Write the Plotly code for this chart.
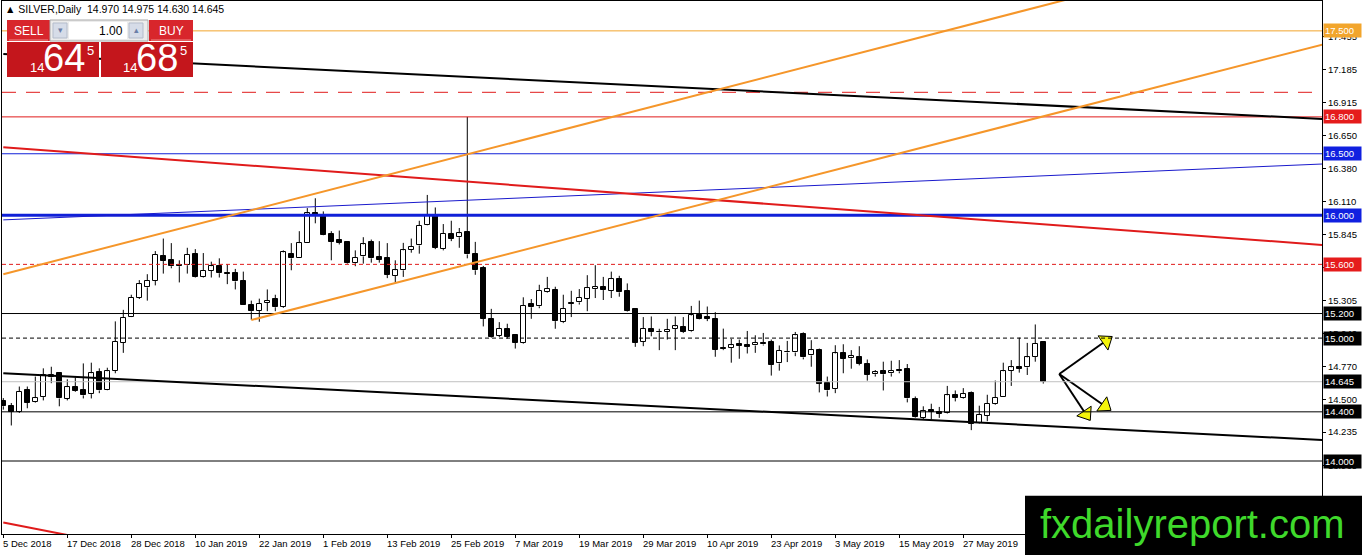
import plotly.graph_objects as go

# SILVER daily bars (O, H, L, C), first bar = 5 Dec 2018, last = 10 Jun 2019
opens = [14.485, 14.450, 14.399, 14.574, 14.477, 14.520, 14.681, 14.714, 14.507, 14.601,
         14.579, 14.544, 14.722, 14.576, 14.735, 14.964, 15.173, 15.327, 15.413, 15.466,
         15.665, 15.633, 15.593, 15.593, 15.687, 15.498, 15.547, 15.585, 15.528, 15.528,
         15.466, 15.273, 15.224, 15.289, 15.316, 15.257, 15.687, 15.654, 15.775, 16.015,
         15.993, 15.848, 15.797, 15.786, 15.609, 15.665, 15.781, 15.657, 15.649, 15.507,
         15.552, 15.719, 15.754, 15.923, 15.998, 15.724, 15.848, 15.821, 15.861, 15.687,
         15.574, 15.157, 15.020, 15.076, 15.023, 14.961, 15.278, 15.259, 15.378, 15.391,
         15.130, 15.286, 15.291, 15.318, 15.399, 15.418, 15.385, 15.482, 15.385, 15.238,
         14.969, 15.076, 15.052, 15.049, 15.076, 15.090, 15.055, 15.184, 15.171, 15.157,
         14.923, 14.923, 14.950, 14.942, 14.940, 14.961, 14.966, 14.794, 14.883, 14.883,
         15.036, 14.859, 14.902, 14.633, 14.585, 14.875, 14.835, 14.848, 14.786, 14.706,
         14.733, 14.714, 14.741, 14.746, 14.507, 14.351, 14.418, 14.396, 14.391, 14.539,
         14.512, 14.552, 14.310, 14.370, 14.464, 14.520, 14.735, 14.762, 14.762, 14.848,
         14.970]
highs = [14.512, 14.472, 14.606, 14.606, 14.687, 14.754, 14.767, 14.724, 14.665, 14.681,
         14.794, 14.800, 14.754, 14.759, 15.136, 15.230, 15.353, 15.472, 15.520, 15.708,
         15.810, 15.773, 15.633, 15.735, 15.724, 15.692, 15.622, 15.649, 15.601, 15.563,
         15.541, 15.305, 15.321, 15.396, 15.353, 15.714, 15.773, 15.870, 16.058, 16.138,
         16.031, 15.870, 15.875, 15.790, 15.714, 15.821, 15.802, 15.789, 15.773, 15.633,
         15.775, 15.810, 15.955, 16.165, 16.063, 15.928, 15.955, 15.896, 16.800, 15.783,
         15.587, 15.238, 15.130, 15.117, 15.023, 15.332, 15.318, 15.434, 15.498, 15.418,
         15.353, 15.385, 15.399, 15.512, 15.593, 15.498, 15.541, 15.507, 15.445, 15.240,
         15.171, 15.176, 15.076, 15.157, 15.176, 15.171, 15.262, 15.305, 15.257, 15.211,
         15.077, 14.993, 14.988, 15.058, 15.023, 15.042, 14.988, 14.940, 14.977, 15.050,
         15.047, 14.983, 14.915, 14.687, 14.942, 14.950, 14.902, 14.934, 14.826, 14.740,
         14.808, 14.816, 14.821, 14.789, 14.525, 14.445, 14.466, 14.440, 14.611, 14.574,
         14.593, 14.566, 14.450, 14.539, 14.655, 14.800, 14.821, 15.004, 14.961, 15.111,
         14.975]
lows = [14.418, 14.289, 14.391, 14.429, 14.472, 14.493, 14.633, 14.445, 14.493, 14.563,
        14.509, 14.509, 14.552, 14.574, 14.714, 14.880, 15.171, 15.318, 15.305, 15.429,
        15.525, 15.568, 15.453, 15.525, 15.493, 15.493, 15.493, 15.493, 15.439, 15.396,
        15.267, 15.149, 15.133, 15.219, 15.219, 15.246, 15.552, 15.654, 15.775, 15.934,
        15.837, 15.633, 15.762, 15.606, 15.585, 15.606, 15.614, 15.614, 15.488, 15.453,
        15.498, 15.695, 15.687, 15.918, 15.724, 15.714, 15.789, 15.735, 15.649, 15.515,
        15.095, 15.004, 15.009, 14.996, 14.915, 14.955, 15.157, 15.243, 15.370, 15.076,
        15.122, 15.171, 15.273, 15.219, 15.326, 15.310, 15.326, 15.337, 15.216, 14.929,
        14.934, 15.015, 14.902, 14.988, 14.902, 15.041, 15.049, 15.149, 15.138, 14.848,
        14.902, 14.800, 14.832, 14.875, 14.880, 14.940, 14.695, 14.735, 14.805, 14.853,
        14.827, 14.767, 14.558, 14.525, 14.552, 14.714, 14.751, 14.778, 14.654, 14.687,
        14.574, 14.687, 14.714, 14.477, 14.353, 14.337, 14.337, 14.351, 14.386, 14.485,
        14.507, 14.251, 14.305, 14.324, 14.458, 14.520, 14.611, 14.719, 14.700, 14.808,
        14.630]
closes = [14.445, 14.399, 14.563, 14.472, 14.512, 14.697, 14.697, 14.509, 14.601, 14.571,
          14.534, 14.714, 14.574, 14.730, 14.972, 15.165, 15.329, 15.439, 15.466, 15.676,
          15.627, 15.585, 15.585, 15.676, 15.498, 15.547, 15.585, 15.528, 15.523, 15.461,
          15.267, 15.219, 15.278, 15.305, 15.251, 15.697, 15.649, 15.773, 16.015, 15.993,
          15.843, 15.783, 15.775, 15.614, 15.654, 15.762, 15.649, 15.638, 15.515, 15.552,
          15.714, 15.743, 15.915, 16.004, 15.735, 15.851, 15.810, 15.853, 15.681, 15.552,
          15.157, 15.009, 15.076, 15.009, 14.961, 15.262, 15.251, 15.385, 15.402, 15.138,
          15.238, 15.281, 15.326, 15.407, 15.415, 15.391, 15.480, 15.372, 15.224, 14.961,
          15.076, 15.049, 15.047, 15.068, 15.095, 15.049, 15.184, 15.152, 15.157, 14.907,
          14.910, 14.942, 14.937, 14.929, 14.961, 14.948, 14.781, 14.896, 14.888, 15.023,
          14.843, 14.902, 14.628, 14.574, 14.875, 14.832, 14.853, 14.789, 14.700, 14.722,
          14.706, 14.733, 14.730, 14.509, 14.359, 14.405, 14.402, 14.386, 14.534, 14.512,
          14.544, 14.305, 14.378, 14.464, 14.515, 14.730, 14.762, 14.751, 14.843, 14.956,
          14.645]

date_labels = ["5 Dec 2018", "17 Dec 2018", "28 Dec 2018", "10 Jan 2019", "22 Jan 2019",
               "1 Feb 2019", "13 Feb 2019", "25 Feb 2019", "7 Mar 2019", "19 Mar 2019",
               "29 Mar 2019", "10 Apr 2019", "23 Apr 2019", "3 May 2019", "15 May 2019",
               "27 May 2019"]
bars_per_label = 8

price_ticks = [17.455, 17.185, 16.915, 16.650, 16.380, 16.110, 15.845, 15.575, 15.305,
               15.040, 14.770, 14.500, 14.235, 13.965, 13.695, 13.430]

# horizontal levels
level_prices = [17.5, 17.0, 16.8, 16.5, 16.0, 15.6, 15.2, 15.0, 14.645, 14.4, 14.0]
# price tags on the axis
tag_prices = [17.5, 16.8, 16.5, 16.0, 15.6, 15.2, 15.0, 14.645, 14.4, 14.0]

# trend lines: (bar, price) -> (bar, price)
trend_start = [(0, 17.311), (0, 15.962), (0, 16.553), (0, 13.499), (0, 15.520),
               (31, 15.147), (0, 14.715)]
trend_end = [(165, 16.783), (165, 16.417), (165, 15.757), (20, 13.246), (165, 18.294),
             (165, 17.390), (165, 14.171)]

# hand-drawn arrows on the last bars
arrow_origin = (132.0, 14.708)
arrow_tips = [(138.55, 15.011), (138.4, 14.415), (135.8, 14.334)]
arrow_heads = [(137.85, 14.978), (137.7, 14.447), (135.35, 14.381)]
arrow_angles = [55, 125, 146]

# ---------------- styles ----------------
FONT = "Liberation Sans, Arial, DejaVu Sans"
ORANGE = "#f5962a"
RED = "#e01b1b"
BLUE = "#1020d8"

level_styles = [
    dict(color="#f2a52c", width=1, dash="solid"),
    dict(color=RED, width=1, dash="14px,10px"),
    dict(color=RED, width=1, dash="solid"),
    dict(color=BLUE, width=1, dash="solid"),
    dict(color=BLUE, width=3, dash="solid"),
    dict(color=RED, width=1, dash="4px,3px"),
    dict(color="black", width=1, dash="solid"),
    dict(color="black", width=1, dash="4px,3px"),
    dict(color="#c0c0c0", width=1, dash="solid"),
    dict(color="black", width=1, dash="solid"),
    dict(color="black", width=1, dash="solid"),
]
tag_colors = ["#f2a52c", "#e51c1c", "#1020e0", "#1020e0", "#e51c1c",
              "black", "black", "black", "black", "black"]
trend_styles = [
    dict(color="black", width=2),
    dict(color="#1a1acc", width=1),
    dict(color=RED, width=2),
    dict(color=RED, width=2),
    dict(color=ORANGE, width=2),
    dict(color=ORANGE, width=2),
    dict(color="black", width=2),
]

W, H = 1362, 555
ML, MR, MT, MB = 2, 40, 1, 21


def px(x):
    return (x - ML) / (W - ML - MR)


def py(y):
    return (H - MB - y) / (H - MT - MB)


idx = list(range(len(opens)))
up = [i for i in idx if closes[i] >= opens[i]]
dn = [i for i in idx if closes[i] < opens[i]]

fig = go.Figure()

# wicks (split so they don't cross white bodies)
wx, wy = [], []
for i in idx:
    top = max(opens[i], closes[i])
    bot = min(opens[i], closes[i])
    wx += [i, i, None, i, i, None]
    wy += [highs[i], top, None, bot, lows[i], None]
fig.add_trace(go.Scatter(x=wx, y=wy, mode="lines", line=dict(color="black", width=1),
                         hoverinfo="skip", showlegend=False))

for sel, fill in [(up, "white"), (dn, "black")]:
    fig.add_trace(go.Bar(
        x=sel,
        base=[min(opens[i], closes[i]) for i in sel],
        y=[max(abs(closes[i] - opens[i]), 0.002) for i in sel],
        width=0.58,
        marker=dict(color=fill, line=dict(color="black", width=1)),
        showlegend=False,
    ))

# arrows
for (tx, tp), (hx, hp), ang in zip(arrow_tips, arrow_heads, arrow_angles):
    fig.add_trace(go.Scatter(x=[arrow_origin[0], tx], y=[arrow_origin[1], tp], mode="lines",
                             line=dict(color="black", width=2), showlegend=False,
                             hoverinfo="skip"))
    fig.add_trace(go.Scatter(x=[hx], y=[hp], mode="markers",
                             marker=dict(symbol="triangle-up", size=15, angle=ang,
                                         color="#f4f40a", line=dict(color="black", width=1)),
                             showlegend=False, hoverinfo="skip"))

shapes = []
for p, st in zip(level_prices, level_styles):
    shapes.append(dict(type="line", xref="paper", x0=0, x1=1, yref="y", y0=p, y1=p,
                       line=st))
for (x0, p0), (x1, p1), st in zip(trend_start, trend_end, trend_styles):
    shapes.append(dict(type="line", xref="x", yref="y", x0=x0, y0=p0, x1=x1, y1=p1,
                       line=st))


# trade panel (top-left)
def rect(x0, y0, x1, y1, fill, border=None):
    shapes.append(dict(type="rect", xref="paper", yref="paper",
                       x0=px(x0), x1=px(x1), y0=py(y1), y1=py(y0),
                       fillcolor=fill, line=dict(width=1 if border else 0,
                                                 color=border or fill)))


rect(3, 2, 212, 17, "white")
rect(7, 20, 50, 41, "#d8262c")
rect(50, 20, 148, 41, "#ececec", "#a8a8a8")
rect(53, 23, 67, 38, "#d6dce8", "#b4bccb")
rect(69, 22, 127, 39, "#ffffff")
rect(129, 23, 143, 38, "#d6dce8", "#b4bccb")
rect(149, 20, 193, 41, "#d8262c")
rect(7, 42, 99, 77, "#c4161c")
rect(101, 42, 193, 77, "#c4161c")
shapes.append(dict(type="line", xref="paper", yref="paper", x0=px(9), x1=px(48),
                   y0=py(40), y1=py(40), line=dict(color="#ee8a8a", width=1)))
shapes.append(dict(type="line", xref="paper", yref="paper", x0=px(151), x1=px(191),
                   y0=py(40), y1=py(40), line=dict(color="#ee8a8a", width=1)))

# watermark box
rect(1025, 495.7, 1362, 556, "black")

annotations = []


def text(t, x, y, size, color="white", xanchor="center", yanchor="middle"):
    annotations.append(dict(text=t, x=px(x), y=py(y), xref="paper", yref="paper",
                            xanchor=xanchor, yanchor=yanchor, showarrow=False,
                            font=dict(family=FONT, size=size, color=color)))


text("▲ SILVER,Daily  14.970 14.975 14.630 14.645", 3, 9, 10.5, "black", xanchor="left")
text("SELL", 28.5, 31, 12)
text("BUY", 171, 31, 12)
text("1.00", 125, 30.5, 12, "black", xanchor="right")
text("▾", 60, 30, 9, "#6b7fa8")
text("▴", 136, 30, 9, "#6b7fa8")
text("14", 37, 67.5, 13)
text("64", 64, 58, 38)
text("5", 90, 51, 13)
text("14", 130, 67.5, 13)
text("68", 157, 58, 38)
text("5", 183, 51, 13)

text("fxdailyreport.com", 1192, 524, 40, "#3fd92b")

# date labels
for n, lab in enumerate(date_labels):
    annotations.append(dict(text=lab, x=n * bars_per_label, y=0, xref="x", yref="paper",
                            xanchor="left", yanchor="top", showarrow=False, xshift=-2,
                            yshift=-2, font=dict(family=FONT, size=9.5, color="black")))

# price tags
for p, c in zip(tag_prices, tag_colors):
    annotations.append(dict(text=f"{p:.3f}", x=1, y=p, xref="paper", yref="y",
                            xanchor="left", yanchor="middle", showarrow=False, xshift=1,
                            bgcolor=c, borderpad=1, width=35, align="left",
                            font=dict(family=FONT, size=9.5, color="white")))

fig.update_layout(
    width=W, height=H,
    margin=dict(l=ML, r=MR, t=MT, b=MB),
    paper_bgcolor="white", plot_bgcolor="white",
    barmode="overlay", bargap=0,
    showlegend=False,
    shapes=shapes,
    annotations=annotations,
    xaxis=dict(range=[-0.1625, 164.84], showgrid=False, zeroline=False,
               showline=True, linecolor="black", linewidth=1, mirror=True,
               tickvals=list(range(0, len(opens), bars_per_label)),
               ticks="outside", ticklen=3, tickcolor="black", showticklabels=False,
               fixedrange=True),
    yaxis=dict(range=[13.406, 17.743], side="right", showgrid=False, zeroline=False,
               showline=True, linecolor="black", linewidth=1, mirror=True,
               tickvals=price_ticks, ticktext=[f"{t:.3f}" for t in price_ticks],
               ticks="outside", ticklen=3, tickcolor="black",
               tickfont=dict(family=FONT, size=9.5, color="black"), fixedrange=True),
)

fig.write_html("out.html", config={"displayModeBar": False},
               post_script="document.body.style.margin='0';document.body.style.overflow='hidden';")
